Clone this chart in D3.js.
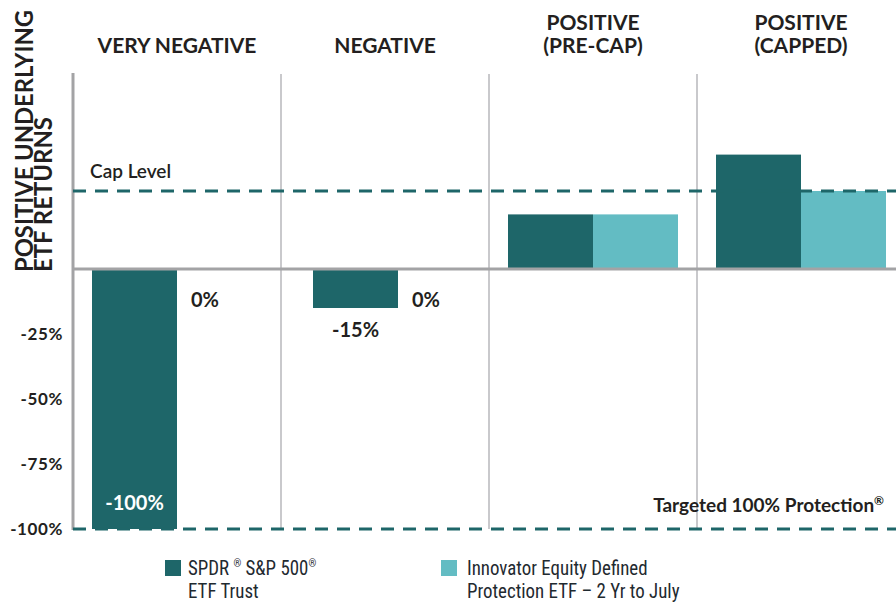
<!DOCTYPE html>
<html>
<head>
<meta charset="utf-8">
<script src="https://cdn.jsdelivr.net/npm/d3@7/dist/d3.min.js"></script>
<style>
  html, body { margin: 0; padding: 0; background: #fff; }
  svg { display: block; }
  .bold { font-family: Lato, "Open Sans", sans-serif; font-weight: 700; fill: #231f20; }
  .legend { font-family: "Liberation Sans Narrow", "Roboto Condensed", Roboto, sans-serif; fill: #1f2a30; }
</style>
</head>
<body>
<svg id="chart" width="896" height="603"></svg>
<script>
// Scenario categories, each header split into lines
const categories = ["VERY NEGATIVE", "NEGATIVE", "POSITIVE (PRE-CAP)", "POSITIVE (CAPPED)"];
const categoryLines = [["VERY NEGATIVE"], ["NEGATIVE"], ["POSITIVE", "(PRE-CAP)"], ["POSITIVE", "(CAPPED)"]];

// Returns (%) per scenario
const spdrValues = [-100, -15, 21, 44];
const innovatorValues = [0, 0, 21, 30];

// Reference levels (%)
const capLevel = 30;
const protectionLevel = -100;

// Y tick values
const yTicks = [-25, -50, -75, -100];

const seriesNames = ["SPDR ® S&P 500®|ETF Trust", "Innovator Equity Defined|Protection ETF – 2 Yr to July"];
const colors = ["#1e6669", "#63bcc3"];

const svg = d3.select("#chart");
const plotLeft = 73, plotRight = 905, plotTop = 74, plotBottom = 529;

const x = d3.scaleBand().domain(categories).range([plotLeft, plotRight]).paddingInner(0).paddingOuter(0);
const barPad = 19;
// the NEGATIVE pair sits slightly right of the others
const groupNudge = [0, 13, 0, 0];
const barW = (x.bandwidth() - 2 * barPad) / 2;
const y = d3.scaleLinear().domain([protectionLevel, 75]).range([plotBottom, plotTop]);

// Column dividers
svg.append("g").selectAll("line")
  .data(categories.slice(1))
  .join("line")
  .attr("x1", d => x(d)).attr("x2", d => x(d))
  .attr("y1", plotTop).attr("y2", plotBottom)
  .attr("stroke", "#c9c9cc").attr("stroke-width", 2);

// Bars
const series = [spdrValues, innovatorValues];
series.forEach((vals, si) => {
  svg.append("g").selectAll("rect")
    .data(vals.map((v, i) => ({ v, i })).filter(d => d.v !== 0))
    .join("rect")
    .attr("x", d => x(categories[d.i]) + barPad + groupNudge[d.i] + si * barW)
    .attr("width", barW)
    .attr("y", d => y(Math.max(0, d.v)))
    .attr("height", d => Math.abs(y(d.v) - y(0)))
    .attr("fill", colors[si]);
});

// Zero line
svg.append("line")
  .attr("x1", plotLeft).attr("x2", 896)
  .attr("y1", y(0)).attr("y2", y(0))
  .attr("stroke", "#a3a3a5").attr("stroke-width", 3);

// Left axis line
svg.append("line")
  .attr("x1", plotLeft).attr("x2", plotLeft)
  .attr("y1", plotTop - 1).attr("y2", plotBottom + 1)
  .attr("stroke", "#a3a3a5").attr("stroke-width", 3);

// Cap level and protection dashed lines
[capLevel, protectionLevel].forEach(v => {
  svg.append("line")
    .attr("x1", plotLeft).attr("x2", 896)
    .attr("y1", y(v)).attr("y2", y(v))
    .attr("stroke", "#1e6669").attr("stroke-width", 3)
    .attr("stroke-dasharray", "13,9");
});

svg.append("text").attr("class", "bold")
  .attr("x", 90).attr("y", y(capLevel) - 13)
  .attr("font-size", 19).style("font-weight", 600)
  .text("Cap Level");

const prot = svg.append("text").attr("class", "bold")
  .attr("x", 884).attr("y", y(protectionLevel) - 17)
  .attr("text-anchor", "end").attr("font-size", 19)
  .text("Targeted 100% Protection");
prot.append("tspan").attr("font-size", 12).attr("dy", -7).text("®");

// Y ticks
svg.append("g").selectAll("text")
  .data(yTicks)
  .join("text").attr("class", "bold")
  .attr("x", 63).attr("y", d => y(d) + 6)
  .attr("text-anchor", "end").attr("font-size", 17)
  .style("letter-spacing", "0.6px")
  .text(d => d + "%");

// Category headers
categoryLines.forEach((lines, i) => {
  const cx = x(categories[i]) + x.bandwidth() / 2;
  lines.forEach((ln, j) => {
    svg.append("text").attr("class", "bold")
      .attr("x", cx)
      .attr("y", 53 - (lines.length - 1 - j) * 23)
      .attr("text-anchor", "middle").attr("font-size", 21)
      .text(ln);
  });
});

// Y axis title
const yt = svg.append("text").attr("class", "bold")
  .attr("transform", "translate(33,272) rotate(-90)")
  .attr("font-size", 24);
yt.append("tspan").attr("x", 0).attr("y", 0)
  .attr("textLength", 262).attr("lengthAdjust", "spacingAndGlyphs")
  .text("POSITIVE UNDERLYING");
yt.append("tspan").attr("x", 0).attr("y", 19)
  .attr("textLength", 155).attr("lengthAdjust", "spacingAndGlyphs")
  .text("ETF RETURNS");

// Value labels for negative-scenario bars
const fmt = v => v + "%";
spdrValues.forEach((v, i) => {
  if (v >= 0) return;
  const bx = x(categories[i]) + barPad + groupNudge[i];
  const inside = Math.abs(v) >= 50;
  svg.append("text").attr("class", "bold")
    .attr("x", bx + barW / 2)
    .attr("y", inside ? y(v) - 19 : y(v) + 29)
    .attr("text-anchor", "middle").attr("font-size", 20)
    .style("fill", inside ? "#ffffff" : null)
    .text(fmt(v));
});
innovatorValues.forEach((v, i) => {
  if (spdrValues[i] >= 0) return;
  const bx = x(categories[i]) + barPad + groupNudge[i] + barW;
  svg.append("text").attr("class", "bold")
    .attr("x", bx + 14)
    .attr("y", y(v) + 38)
    .attr("font-size", 20)
    .text(fmt(v));
});

// Legend
const legendX = [165, 441];
const legendTextX = [188, 467];
seriesNames.forEach((name, i) => {
  svg.append("rect")
    .attr("x", legendX[i]).attr("y", 560)
    .attr("width", 16).attr("height", 16)
    .attr("fill", colors[i]);
  const [l1, l2] = name.split("|");
  const g = svg.append("g")
    .attr("transform", `translate(${legendTextX[i]},0) scale(0.9,1)`);
  const t = g.append("text").attr("class", "legend").attr("font-size", 21);
  if (i === 0) {
    t.append("tspan").attr("x", 0).attr("y", 575).text("SPDR ");
    t.append("tspan").attr("font-size", 11).attr("dy", -8).text("®");
    t.append("tspan").attr("dy", 8).text(" S&P 500");
    t.append("tspan").attr("font-size", 11).attr("dy", -8).text("®");
  } else {
    t.append("tspan").attr("x", 0).attr("y", 575).text(l1);
  }
  t.append("tspan").attr("x", 0).attr("y", 598).text(l2);
});
</script>
</body>
</html>
